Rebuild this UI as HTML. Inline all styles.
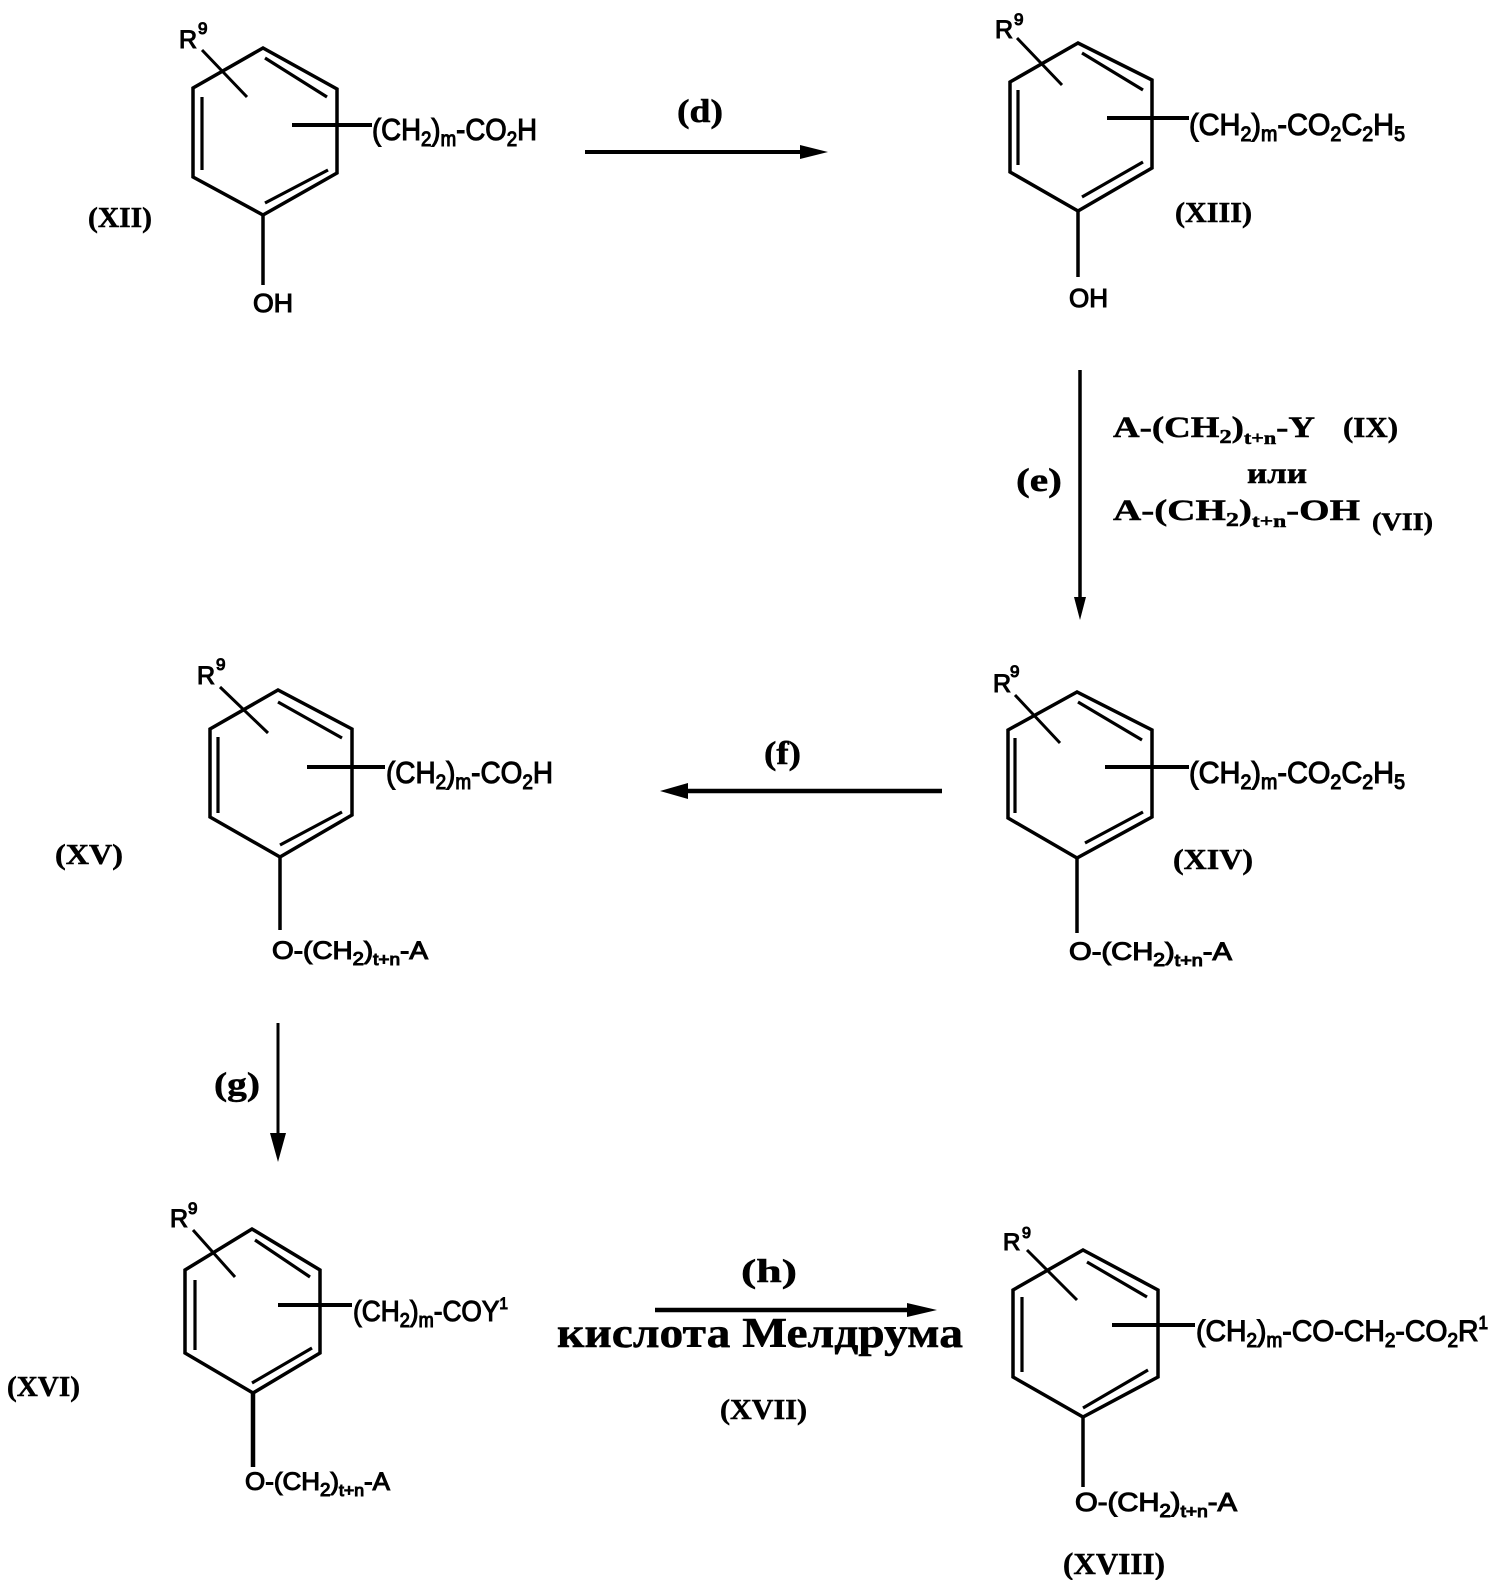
<!DOCTYPE html>
<html>
<head>
<meta charset="utf-8">
<style>
html,body{margin:0;padding:0;background:#fff;}
svg{display:block;}
.sans{font-family:"Liberation Sans",Arial,sans-serif;}
.serif{font-family:"Liberation Serif","Times New Roman",serif;font-weight:bold;}
</style>
</head>
<body>
<svg width="1493" height="1580" viewBox="0 0 1493 1580" xmlns="http://www.w3.org/2000/svg">
<rect width="1493" height="1580" fill="#fff"/>
<g fill="none" stroke="#000" stroke-width="3.5" stroke-linejoin="miter" stroke-linecap="butt">
  <!-- Ring 1 XII -->
  <polygon points="263,48 193,88 193,177 263,215 337,173 337,89"/>
  <line x1="202" y1="97" x2="202" y2="170" stroke-width="3.2"/>
  <line x1="265" y1="58" x2="327" y2="97" stroke-width="3.2"/>
  <line x1="265" y1="203" x2="328" y2="170" stroke-width="3.2"/>
  <line x1="202" y1="50" x2="247" y2="97" stroke-width="3"/>
  <line x1="292" y1="125" x2="372" y2="125" stroke-width="4"/>
  <line x1="263" y1="215" x2="263" y2="285"/>

  <!-- Ring 2 XIII -->
  <polygon points="1078,43 1010,82 1010,172 1078,211 1152,168 1152,80"/>
  <line x1="1018" y1="90" x2="1018" y2="165" stroke-width="3.2"/>
  <line x1="1082" y1="53" x2="1143" y2="90" stroke-width="3.2"/>
  <line x1="1082" y1="197" x2="1143" y2="162" stroke-width="3.2"/>
  <line x1="1017" y1="38" x2="1062" y2="85" stroke-width="3"/>
  <line x1="1107" y1="118" x2="1189" y2="118" stroke-width="4"/>
  <line x1="1078" y1="211" x2="1078" y2="277"/>

  <!-- Ring 3 XV -->
  <polygon points="278,690 210,729 210,817 280,857 352,815 352,729"/>
  <line x1="218" y1="737" x2="218" y2="813" stroke-width="3.2"/>
  <line x1="278" y1="702" x2="342" y2="738" stroke-width="3.2"/>
  <line x1="280" y1="845" x2="342" y2="812" stroke-width="3.2"/>
  <line x1="220" y1="687" x2="268" y2="733" stroke-width="3"/>
  <line x1="307" y1="767" x2="385" y2="767" stroke-width="4"/>
  <line x1="280" y1="857" x2="280" y2="930"/>

  <!-- Ring 4 XIV -->
  <polygon points="1077,692 1008,730 1008,818 1077,858 1152,817 1152,730"/>
  <line x1="1015" y1="738" x2="1015" y2="813" stroke-width="3.2"/>
  <line x1="1078" y1="702" x2="1142" y2="740" stroke-width="3.2"/>
  <line x1="1085" y1="843" x2="1143" y2="812" stroke-width="3.2"/>
  <line x1="1015" y1="695" x2="1060" y2="743" stroke-width="3"/>
  <line x1="1105" y1="767" x2="1189" y2="767" stroke-width="4"/>
  <line x1="1077" y1="858" x2="1077" y2="933"/>

  <!-- Ring 5 XVI -->
  <polygon points="252,1229 185,1270 185,1353 253,1393 320,1353 320,1270"/>
  <line x1="195" y1="1280" x2="195" y2="1350" stroke-width="3.2"/>
  <line x1="255" y1="1240" x2="310" y2="1277" stroke-width="3.2"/>
  <line x1="252" y1="1383" x2="312" y2="1348" stroke-width="3.2"/>
  <line x1="193" y1="1230" x2="235" y2="1277" stroke-width="3"/>
  <line x1="278" y1="1305" x2="352" y2="1305" stroke-width="4"/>
  <line x1="253" y1="1393" x2="253" y2="1467" stroke-width="4.5"/>

  <!-- Ring 6 XVIII -->
  <polygon points="1083,1250 1013,1290 1013,1377 1083,1417 1158,1377 1158,1290"/>
  <line x1="1022" y1="1297" x2="1022" y2="1372" stroke-width="3.2"/>
  <line x1="1087" y1="1262" x2="1147" y2="1297" stroke-width="3.2"/>
  <line x1="1083" y1="1408" x2="1148" y2="1370" stroke-width="3.2"/>
  <line x1="1027" y1="1250" x2="1077" y2="1300" stroke-width="3"/>
  <line x1="1112" y1="1325" x2="1195" y2="1325" stroke-width="4"/>
  <line x1="1083" y1="1417" x2="1083" y2="1487"/>

  <!-- Arrows -->
  <line x1="585" y1="152" x2="805" y2="152" stroke-width="4"/>
  <line x1="1080" y1="370" x2="1080" y2="602" stroke-width="3.5"/>
  <line x1="685" y1="791" x2="942" y2="791" stroke-width="4.5"/>
  <line x1="278" y1="1023" x2="278" y2="1138" stroke-width="3"/>
  <line x1="655" y1="1310" x2="912" y2="1310" stroke-width="4.5"/>
</g>
<g fill="#000" stroke="none">
  <polygon points="800,145 828,152 800,159"/>
  <polygon points="1074,597 1086,597 1080,620"/>
  <polygon points="688,783 660,791 688,799"/>
  <polygon points="270,1133 286,1133 278,1162"/>
  <polygon points="907,1303 937,1310 907,1317"/>
</g>

<!-- Sans labels -->
<g class="sans" fill="#000" stroke="#000" stroke-width="1.1">
  <!-- XII -->
  <text x="179" y="48" font-size="25">R</text>
  <text x="198" y="34" font-size="17">9</text>
  <text x="372" y="140" font-size="31" textLength="165" lengthAdjust="spacingAndGlyphs">(CH<tspan font-size="21" dy="6">2</tspan><tspan dy="-6">)</tspan><tspan font-size="21" dy="6">m</tspan><tspan dy="-6">-CO</tspan><tspan font-size="21" dy="6">2</tspan><tspan dy="-6">H</tspan></text>
  <text x="253" y="312" font-size="26" textLength="40" lengthAdjust="spacingAndGlyphs">OH</text>

  <!-- XIII -->
  <text x="995" y="38" font-size="25">R</text>
  <text x="1014" y="25" font-size="17">9</text>
  <text x="1189" y="135" font-size="31" textLength="216" lengthAdjust="spacingAndGlyphs">(CH<tspan font-size="21" dy="6">2</tspan><tspan dy="-6">)</tspan><tspan font-size="21" dy="6">m</tspan><tspan dy="-6">-CO</tspan><tspan font-size="21" dy="6">2</tspan><tspan dy="-6">C</tspan><tspan font-size="21" dy="6">2</tspan><tspan dy="-6">H</tspan><tspan font-size="21" dy="6">5</tspan></text>
  <text x="1069" y="307" font-size="26" textLength="39" lengthAdjust="spacingAndGlyphs">OH</text>

  <!-- XV -->
  <text x="197" y="684" font-size="25">R</text>
  <text x="216" y="670" font-size="17">9</text>
  <text x="386" y="783" font-size="31" textLength="167" lengthAdjust="spacingAndGlyphs">(CH<tspan font-size="21" dy="6">2</tspan><tspan dy="-6">)</tspan><tspan font-size="21" dy="6">m</tspan><tspan dy="-6">-CO</tspan><tspan font-size="21" dy="6">2</tspan><tspan dy="-6">H</tspan></text>
  <text x="272" y="959" font-size="25" textLength="156" lengthAdjust="spacingAndGlyphs">O-(CH<tspan font-size="18" dy="6">2</tspan><tspan dy="-6">)</tspan><tspan font-size="17" dy="6">t+n</tspan><tspan dy="-6">-A</tspan></text>

  <!-- XIV -->
  <text x="993" y="692" font-size="25">R</text>
  <text x="1010" y="677" font-size="17">9</text>
  <text x="1189" y="783" font-size="31" textLength="216" lengthAdjust="spacingAndGlyphs">(CH<tspan font-size="21" dy="6">2</tspan><tspan dy="-6">)</tspan><tspan font-size="21" dy="6">m</tspan><tspan dy="-6">-CO</tspan><tspan font-size="21" dy="6">2</tspan><tspan dy="-6">C</tspan><tspan font-size="21" dy="6">2</tspan><tspan dy="-6">H</tspan><tspan font-size="21" dy="6">5</tspan></text>
  <text x="1069" y="960" font-size="25" textLength="163" lengthAdjust="spacingAndGlyphs">O-(CH<tspan font-size="18" dy="6">2</tspan><tspan dy="-6">)</tspan><tspan font-size="17" dy="6">t+n</tspan><tspan dy="-6">-A</tspan></text>

  <!-- XVI -->
  <text x="170" y="1227" font-size="25">R</text>
  <text x="188" y="1214" font-size="17">9</text>
  <text x="353" y="1321" font-size="29" textLength="155" lengthAdjust="spacingAndGlyphs">(CH<tspan font-size="20" dy="6">2</tspan><tspan dy="-6">)</tspan><tspan font-size="20" dy="6">m</tspan><tspan dy="-6">-COY</tspan><tspan font-size="17" dy="-12">1</tspan></text>
  <text x="245" y="1490" font-size="25" textLength="145" lengthAdjust="spacingAndGlyphs">O-(CH<tspan font-size="18" dy="6">2</tspan><tspan dy="-6">)</tspan><tspan font-size="17" dy="6">t+n</tspan><tspan dy="-6">-A</tspan></text>

  <!-- XVIII -->
  <text x="1003" y="1250" font-size="24">R</text>
  <text x="1022" y="1238" font-size="16">9</text>
  <text x="1196" y="1341" font-size="30" textLength="292" lengthAdjust="spacingAndGlyphs">(CH<tspan font-size="20" dy="6">2</tspan><tspan dy="-6">)</tspan><tspan font-size="20" dy="6">m</tspan><tspan dy="-6">-CO-CH</tspan><tspan font-size="20" dy="6">2</tspan><tspan dy="-6">-CO</tspan><tspan font-size="20" dy="6">2</tspan><tspan dy="-6">R</tspan><tspan font-size="18" dy="-12">1</tspan></text>
  <text x="1075" y="1511" font-size="26" textLength="162" lengthAdjust="spacingAndGlyphs">O-(CH<tspan font-size="18" dy="6">2</tspan><tspan dy="-6">)</tspan><tspan font-size="17" dy="6">t+n</tspan><tspan dy="-6">-A</tspan></text>
</g>

<!-- Serif labels -->
<g class="serif" fill="#000" stroke="#000" stroke-width="0.5">
  <text x="88" y="227" font-size="29" textLength="64" lengthAdjust="spacingAndGlyphs">(XII)</text>
  <text x="1175" y="222" font-size="29" textLength="77" lengthAdjust="spacingAndGlyphs">(XIII)</text>
  <text x="55" y="864" font-size="29" textLength="68" lengthAdjust="spacingAndGlyphs">(XV)</text>
  <text x="1173" y="869" font-size="29" textLength="80" lengthAdjust="spacingAndGlyphs">(XIV)</text>
  <text x="7" y="1396" font-size="29" textLength="73" lengthAdjust="spacingAndGlyphs">(XVI)</text>
  <text x="1063" y="1574" font-size="31" textLength="102" lengthAdjust="spacingAndGlyphs">(XVIII)</text>
  <text x="720" y="1419" font-size="28" textLength="87" lengthAdjust="spacingAndGlyphs">(XVII)</text>

  <text x="677" y="122" font-size="33" textLength="46" lengthAdjust="spacingAndGlyphs">(d)</text>
  <text x="1016" y="491" font-size="33" textLength="46" lengthAdjust="spacingAndGlyphs">(e)</text>
  <text x="764" y="764" font-size="33" textLength="37" lengthAdjust="spacingAndGlyphs">(f)</text>
  <text x="214" y="1095" font-size="33" textLength="46" lengthAdjust="spacingAndGlyphs">(g)</text>
  <text x="741" y="1282" font-size="33" textLength="56" lengthAdjust="spacingAndGlyphs">(h)</text>

  <text x="1113" y="437" font-size="30" textLength="202" lengthAdjust="spacingAndGlyphs">A-(CH<tspan font-size="20" dy="6">2</tspan><tspan dy="-6">)</tspan><tspan font-size="18" dy="7">t+n</tspan><tspan dy="-7">-Y</tspan></text>
  <text x="1343" y="437" font-size="28" textLength="55" lengthAdjust="spacingAndGlyphs">(IX)</text>
  <text x="1247" y="483" font-size="30" textLength="60" lengthAdjust="spacingAndGlyphs">или</text>
  <text x="1113" y="520" font-size="30" textLength="247" lengthAdjust="spacingAndGlyphs">A-(CH<tspan font-size="20" dy="6">2</tspan><tspan dy="-6">)</tspan><tspan font-size="18" dy="7">t+n</tspan><tspan dy="-7">-OH</tspan></text>
  <text x="1372" y="530" font-size="25" textLength="61" lengthAdjust="spacingAndGlyphs">(VII)</text>

  <text x="557" y="1347" font-size="42" textLength="406" lengthAdjust="spacingAndGlyphs">кислота Мелдрума</text>
</g>
</svg>
</body>
</html>
